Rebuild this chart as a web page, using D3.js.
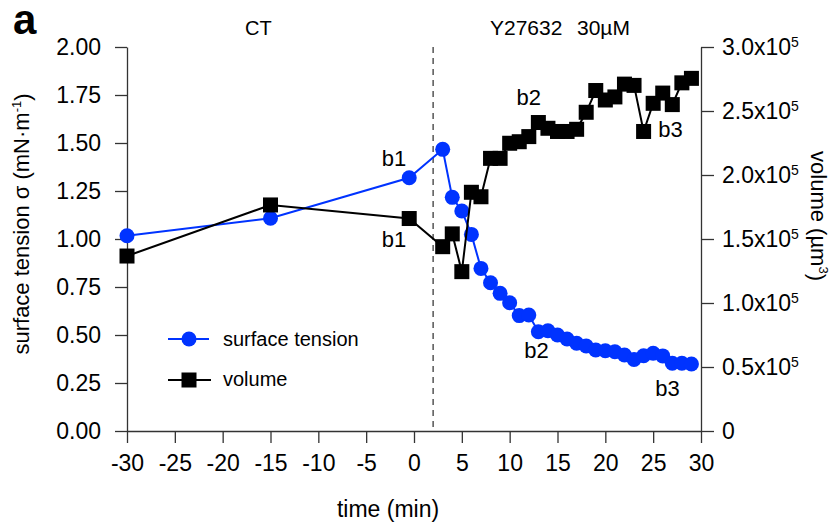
<!DOCTYPE html>
<html>
<head>
<meta charset="utf-8">
<script src="https://cdn.jsdelivr.net/npm/d3@7"></script>
<style>
  body { margin: 0; background: #fff; }
  svg { font-family: "Liberation Sans", Arial, sans-serif; }
</style>
</head>
<body>
<div id="chart"></div>
<script>
// time points (min) for both series
const times = [-30, -15, -0.5, 3, 4, 5, 6, 7, 8, 9, 10, 11, 12, 13, 14, 15, 16,
  17, 18, 19, 20, 21, 22, 23, 24, 25, 26, 27, 28, 29];

// surface tension (mN/m)
const tension = [1.017, 1.108, 1.319, 1.467, 1.217, 1.146, 1.024, 0.847, 0.772, 0.717,
  0.668, 0.601, 0.604, 0.517, 0.522, 0.50, 0.479, 0.457, 0.443, 0.422,
  0.418, 0.413, 0.396, 0.373, 0.392, 0.405, 0.391, 0.353, 0.353, 0.349];

// volume (x10^5 um^3)
const volume = [1.367, 1.766, 1.66, 1.44, 1.54, 1.245, 1.865, 1.83, 2.13, 2.13,
  2.248, 2.26, 2.30, 2.41, 2.365, 2.34, 2.34, 2.357, 2.49, 2.66,
  2.586, 2.61, 2.71, 2.70, 2.34, 2.56, 2.64, 2.55, 2.72, 2.755];

const xTicks = d3.range(-30, 31, 5);
const leftTicks = [0, 0.25, 0.5, 0.75, 1, 1.25, 1.5, 1.75, 2];
const rightTicks = [0, 0.5, 1, 1.5, 2, 2.5, 3];
const drugTime = 2;

// b1/b2/b3 annotations, positioned in time / left-axis units
const notes = [
  { text: "b1", x: -2.1, y: 1.38 },
  { text: "b1", x: -2.1, y: 0.96 },
  { text: "b2", x: 12.0, y: 1.70 },
  { text: "b2", x: 12.8, y: 0.38 },
  { text: "b3", x: 26.8, y: 1.53 },
  { text: "b3", x: 26.5, y: 0.18 }
];

const width = 831, height = 531;
const blue = "#0033ff";

const svg = d3.select("#chart").append("svg")
  .attr("width", width)
  .attr("height", height);

const x = d3.scaleLinear().domain([-30, 30]).range([127, 701]);
const yL = d3.scaleLinear().domain([0, 2]).range([431, 47]);
const yR = d3.scaleLinear().domain([0, 3]).range([431, 47]);

// dashed line for drug addition
svg.append("line")
  .attr("x1", x(drugTime)).attr("x2", x(drugTime))
  .attr("y1", 47).attr("y2", 431)
  .attr("stroke", "#555")
  .attr("stroke-width", 1.5)
  .attr("stroke-dasharray", "6,5");

// Axes
function styleAxis(g) {
  g.selectAll("path, line").attr("stroke", "#333").attr("stroke-width", 1.3);
  g.selectAll("text").attr("fill", "#000").attr("font-size", 23)
    .attr("font-family", "'Liberation Sans', Arial, sans-serif");
}

svg.append("g")
  .attr("transform", "translate(0,431)")
  .call(d3.axisBottom(x).tickValues(xTicks).tickSize(12).tickSizeOuter(0)
    .tickPadding(12).tickFormat(d => String(d)))
  .call(styleAxis);

svg.append("g")
  .attr("transform", "translate(127,0)")
  .call(d3.axisLeft(yL).tickValues(leftTicks).tickSize(12).tickSizeOuter(0)
    .tickPadding(14).tickFormat(d3.format(".2f")))
  .call(styleAxis);

const rAxis = svg.append("g")
  .attr("transform", "translate(701,0)")
  .call(d3.axisRight(yR).tickValues(rightTicks).tickSize(13).tickSizeOuter(0)
    .tickPadding(8).tickFormat(""))
  .call(styleAxis);

rAxis.selectAll(".tick text").each(function(d) {
  const t = d3.select(this);
  if (d === 0) { t.text("0"); return; }
  t.append("tspan").text(d.toFixed(1) + "x10");
  t.append("tspan").attr("font-size", 14).attr("dy", "-0.55em").text("5");
});

// Axis titles
svg.append("text")
  .attr("x", 388).attr("y", 517)
  .attr("text-anchor", "middle")
  .attr("font-size", 23)
  .text("time (min)");

svg.append("text")
  .attr("transform", "translate(29,224) rotate(-90)")
  .attr("text-anchor", "middle")
  .attr("font-size", 22)
  .call(t => {
    t.append("tspan").text("surface tension σ (mN·m");
    t.append("tspan").attr("font-size", 13).attr("dy", "-0.6em").text("-1");
    t.append("tspan").attr("dy", "0.38em").text(")");
  });

svg.append("text")
  .attr("transform", "translate(811,216) rotate(90)")
  .attr("text-anchor", "middle")
  .attr("font-size", 22)
  .call(t => {
    t.append("tspan").text("volume (µm");
    t.append("tspan").attr("font-size", 13).attr("dy", "-0.6em").text("3");
    t.append("tspan").attr("dy", "0.38em").text(")");
  });

// Top labels
svg.append("text").attr("x", 13).attr("y", 34)
  .attr("font-size", 42).attr("font-weight", "bold").text("a");
svg.append("text").attr("x", 245).attr("y", 35).attr("font-size", 20).text("CT");
svg.append("text").attr("x", 490).attr("y", 35).attr("font-size", 21).text("Y27632");
svg.append("text").attr("x", 577).attr("y", 35).attr("font-size", 21).text("30µM");

// Series
const tensionData = times.map((t, i) => ({ t, v: tension[i] }));
const volumeData = times.map((t, i) => ({ t, v: volume[i] }));

svg.append("path")
  .datum(tensionData)
  .attr("fill", "none")
  .attr("stroke", blue)
  .attr("stroke-width", 2)
  .attr("d", d3.line().x(d => x(d.t)).y(d => yL(d.v)));

svg.append("g")
  .selectAll("circle")
  .data(tensionData)
  .join("circle")
  .attr("cx", d => x(d.t))
  .attr("cy", d => yL(d.v))
  .attr("r", 7.5)
  .attr("fill", blue);

svg.append("path")
  .datum(volumeData)
  .attr("fill", "none")
  .attr("stroke", "#000")
  .attr("stroke-width", 2)
  .attr("d", d3.line().x(d => x(d.t)).y(d => yR(d.v)));

const sq = 15;
svg.append("g")
  .selectAll("rect")
  .data(volumeData)
  .join("rect")
  .attr("x", d => x(d.t) - sq / 2)
  .attr("y", d => yR(d.v) - sq / 2)
  .attr("width", sq)
  .attr("height", sq)
  .attr("fill", "#000");

// b1/b2/b3 labels
svg.append("g")
  .selectAll("text")
  .data(notes)
  .join("text")
  .attr("x", d => x(d.x))
  .attr("y", d => yL(d.y))
  .attr("text-anchor", "middle")
  .attr("font-size", 22)
  .text(d => d.text);

// Legend
const legend = svg.append("g");
legend.append("line").attr("x1", 168).attr("x2", 209).attr("y1", 339).attr("y2", 339)
  .attr("stroke", blue).attr("stroke-width", 2);
legend.append("circle").attr("cx", 189).attr("cy", 339).attr("r", 7.5).attr("fill", blue);
legend.append("text").attr("x", 223).attr("y", 346).attr("font-size", 20).text("surface tension");

legend.append("line").attr("x1", 168).attr("x2", 211).attr("y1", 380).attr("y2", 380)
  .attr("stroke", "#000").attr("stroke-width", 2);
legend.append("rect").attr("x", 189 - sq / 2).attr("y", 380 - sq / 2)
  .attr("width", sq).attr("height", sq).attr("fill", "#000");
legend.append("text").attr("x", 223).attr("y", 386).attr("font-size", 20).text("volume");
</script>
</body>
</html>
